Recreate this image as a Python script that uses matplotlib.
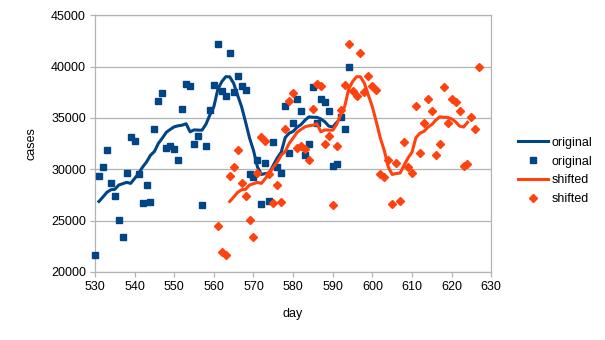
import numpy as np
import matplotlib
matplotlib.use("Agg")
import matplotlib.pyplot as plt
from matplotlib.lines import Line2D

plt.rcParams['font.family'] = ['Liberation Sans', 'DejaVu Sans']

C_BLUE = "#004586"
C_ORANGE = "#ff420e"
C_GRID = "#b3b3b3"

# daily cases (scatter)
orig_days = np.arange(530, 595)
orig_cases = [21700, 29350, 30200, 31850, 28650, 27450, 25100, 23450, 29650, 33150,
              32750, 29550, 26750, 28450, 26850, 33950, 36650, 37400, 32100, 32300,
              32000, 30900, 35900, 38350, 38150, 32500, 33250, 26500, 32250, 35750,
              38250, 42200, 37650, 37100, 41300, 37550, 39100, 38150, 37750, 29550,
              29250, 30900, 26650, 30600, 26900, 32650, 30200, 29600, 36200, 31600,
              34550, 36800, 35700, 31350, 32500, 38050, 34550, 36800, 36550, 35650,
              30300, 30500, 35100, 33950, 39950]

shift_days = np.arange(561, 628)
shift_cases = [24450, 21900,
               21700, 29350, 30200, 31850, 28650, 27450, 25100, 23450, 29650, 33150,
               32750, 29550, 26750, 28450, 26850, 33950, 36650, 37400, 32100, 32300,
               32000, 30900, 35900, 38350, 38150, 32500, 33250, 26500, 32250, 35750,
               38250, 42200, 37650, 37100, 41300, 37550, 39100, 38150, 37750, 29550,
               29250, 30900, 26650, 30600, 26900, 32650, 30200, 29600, 36200, 31600,
               34550, 36800, 35700, 31350, 32500, 38050, 34550, 36800, 36550, 35650,
               30300, 30500, 35100, 33950, 39950]

# smoothed curves (lines)
orig_line_days = np.arange(531, 592)
orig_line = [26870, 27300, 27760, 28010, 28050, 28470, 28600, 28730, 28630, 29110,
             29590, 30210, 30710, 31370, 31740, 32530, 33040, 33610, 33890, 34140,
             34240, 34300, 34440, 33650, 33840, 33820, 33810, 34390, 35300, 36100,
             37790, 38540, 39020, 39010, 38370, 37210, 36090, 34610, 33050, 31840,
             30230, 29500, 29590, 29640, 30400, 31110, 31670, 33090, 33520, 33690,
             34100, 34360, 34790, 35110, 35070, 35060, 34910, 34630, 34210, 34120,
             34570]

shift_line_days = np.arange(564, 625)
shift_line = [26870, 27300, 27760, 28010, 28050, 28470, 28600, 28730, 28630, 29110,
              29590, 30210, 30710, 31370, 31740, 32530, 33040, 33610, 33890, 34140,
              34240, 34300, 34440, 33650, 33840, 33820, 33810, 34390, 35300, 36100,
              37790, 38540, 39020, 39010, 38370, 37210, 36090, 34610, 33050, 31840,
              30230, 29500, 29590, 29640, 30400, 31110, 31670, 33090, 33520, 33690,
              34100, 34360, 34790, 35110, 35070, 35060, 34910, 34630, 34210, 34120,
              34570]

x_ticks = [530, 540, 550, 560, 570, 580, 590, 600, 610, 620, 630]
y_ticks = [20000, 25000, 30000, 35000, 40000, 45000]

fig = plt.figure(figsize=(6.05, 3.4), dpi=100)
ax = fig.add_axes([0.157, 0.2, 0.655, 0.755])

ax.plot(orig_line_days, orig_line, color=C_BLUE, lw=2.2, zorder=3)
ax.plot(orig_days, orig_cases, ls='none', marker='s', ms=5, color=C_BLUE,
        mec=C_BLUE, zorder=4, clip_on=False)
ax.plot(shift_line_days, shift_line, color=C_ORANGE, lw=2.2, zorder=5)
ax.plot(shift_days, shift_cases, ls='none', marker='D', ms=4.4, color=C_ORANGE,
        mec=C_ORANGE, zorder=6, clip_on=False)

ax.set_xlim(530, 630)
ax.set_ylim(20000, 45000)
ax.set_xticks(x_ticks)
ax.set_yticks(y_ticks)
ax.grid(axis='y', color=C_GRID, lw=0.9)
ax.set_axisbelow(True)
for sp in ax.spines.values():
    sp.set_color(C_GRID)
    sp.set_linewidth(0.9)
ax.tick_params(colors=C_GRID, labelcolor='black', labelsize=9,
               length=3.5, width=0.9, pad=3)

ax.set_xlabel("day", fontsize=9, labelpad=11)
ax.set_ylabel("cases", fontsize=9, labelpad=10)

handles = [
    Line2D([], [], color=C_BLUE, lw=2.2),
    Line2D([], [], ls='none', marker='s', ms=5, color=C_BLUE),
    Line2D([], [], color=C_ORANGE, lw=2.2),
    Line2D([], [], ls='none', marker='D', ms=4.4, color=C_ORANGE),
]
labels = ["original", "original", "shifted", "shifted"]
fig.legend(handles, labels, loc='center left', bbox_to_anchor=(0.848, 0.497),
           frameon=False, fontsize=9, handlelength=2.4, handletextpad=0.3,
           labelspacing=0.55, borderaxespad=0)

fig.savefig("out.png", dpi=100)
